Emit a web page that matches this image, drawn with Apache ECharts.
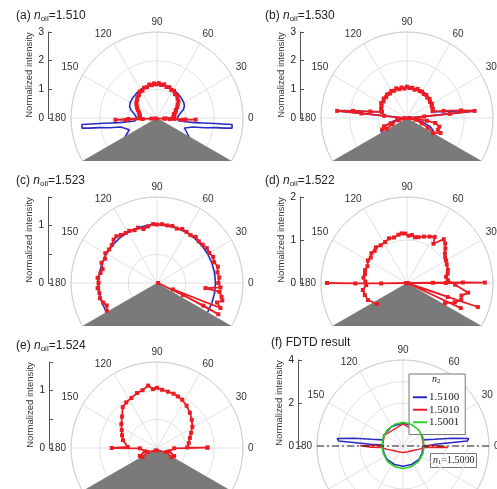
<!DOCTYPE html>
<html><head><meta charset="utf-8">
<script src="https://cdn.jsdelivr.net/npm/echarts@6/dist/echarts.min.js"></script>
<style>
html,body{margin:0;padding:0;background:#fff;width:497px;height:489px;overflow:hidden;position:relative}
.p{position:absolute;overflow:hidden}
</style></head><body>
<div id="pa" class="p" style="left:0;top:0;width:262px;height:161px"></div>
<div id="pc" class="p" style="left:0;top:165px;width:262px;height:161px"></div>
<div id="pe" class="p" style="left:0;top:330px;width:262px;height:159px"></div>
<div id="pb" class="p" style="left:248px;top:0;width:249px;height:161px"></div>
<div id="pd" class="p" style="left:248px;top:165px;width:249px;height:161px"></div>
<div id="pf" class="p" style="left:248px;top:328px;width:249px;height:161px"></div>
<script>
// ---------- data: [radius, angle(deg)] ----------
const panelTitles = ['1.510', '1.530', '1.523', '1.522', '1.524', 'FDTD result'];
const radialMax = [3, 3, 1.5, 2, 1.5, 4];
const radialTick = [1, 1, 0.5, 1, 0.5, 2];
const ringStep = [1, 1, 0.5, 1, 0.5, 1];
const angleTicks = [0, 30, 60, 90, 120, 150, 180];
const legendNames = ['1.5100', '1.5010', '1.5001'];
const n1Label = '1.5000';

const aBlue = [[1.35,212],[1.05,203],[1.02,200],[1.3,194],[1.7,191.5],[2.04,189.5],[2.4,188.5],[2.64,187.7],[2.66,186.3],[2.63,185],[2.3,185.2],[2.02,185.5],[1.6,186.2],[1.32,187],[1.0,187.5],[0.78,187.8],[0.72,182],[0.74,175],[0.82,169],[0.95,163],[1.04,157],[1.08,150],[1.1,140],[1.12,130],[1.15,118],[1.16,105],[1.17,90],[1.16,75],[1.15,62],[1.12,50],[1.1,40],[1.08,30],[1.04,23],[0.95,17],[0.82,11],[0.74,5],[0.72,-2],[0.78,-7.8],[1.0,-7.5],[1.32,-7],[1.6,-6.2],[2.02,-5.5],[2.3,-5.2],[2.63,-5],[2.66,-6.3],[2.64,-7.7],[2.4,-8.5],[2.04,-9.5],[1.7,-11.5],[1.3,-14],[1.02,-20],[1.05,-23],[1.35,-32]];
const aRed = [[0.58,2],[0.62,8],[0.6,13],[0.68,18],[0.72,23],[0.8,28],[0.86,33],[0.95,38],[0.98,43],[1.05,48],[1.04,53],[1.12,58],[1.1,63],[1.16,68],[1.13,73],[1.2,78],[1.16,83],[1.22,87],[1.17,91],[1.21,95],[1.16,99],[1.2,103],[1.13,108],[1.15,113],[1.08,118],[1.1,123],[1.02,128],[1.0,133],[0.94,138],[0.9,143],[0.84,148],[0.78,153],[0.72,158],[0.66,163],[0.62,168],[0.6,173],[0.62,178],[0.6,181],[1.0,182],[1.45,182.5],[1.1,183.5],[0.5,184],[0.2,186],[0.05,200],[0.25,-5],[0.6,-3],[1.0,-3],[1.35,-2.5],[0.9,-4],[0.45,-5],[0.3,-3],[0.58,2]];

const bBlue = [[1.0,213],[1.02,206],[0.85,200],[0.55,194],[0.25,188],[0.05,180],[0.8,174.3],[1.6,174.2],[2.45,174.2],[2.2,173.2],[1.6,171.5],[1.2,169.5],[0.91,166.5],[0.94,160],[1.0,150],[1.04,140],[1.06,125],[1.07,110],[1.07,90],[1.07,70],[1.06,55],[1.04,40],[1.0,30],[0.94,20],[0.91,13.5],[1.2,10.5],[1.6,8.5],[2.2,6.8],[2.42,5.8],[1.6,5.8],[0.8,5.7],[0.05,0],[0.25,-8],[0.55,-14],[0.85,-20],[1.02,-26],[1.0,-33]];
const bRed = [[0.9,166],[0.96,160],[0.98,155],[1.04,150],[1.0,145],[1.06,140],[1.03,135],[1.08,130],[1.04,125],[1.09,120],[1.05,115],[1.1,110],[1.04,105],[1.08,100],[1.03,95],[1.09,90],[1.05,85],[1.07,80],[1.02,75],[1.08,70],[1.04,65],[1.06,60],[1.02,55],[1.05,50],[1.0,45],[1.03,40],[0.98,35],[1.0,30],[0.95,25],[0.96,20],[0.92,15],[1.3,11],[1.9,8],[2.37,6],[1.5,5.5],[0.6,5],[0.1,0],[0.4,-5],[0.7,-8],[1.0,-10],[1.17,-15],[1.15,-21],[1.28,-24],[1.06,-30],[0.8,-25],[0.55,-20],[0.3,-12],[0.05,-5],[0.3,195],[0.6,198],[0.85,200],[0.95,205],[0.8,208],[0.55,203],[0.35,190],[0.1,182],[0.8,174.5],[1.6,174.3],[2.45,174.2],[1.9,172.5],[1.3,170],[0.9,166]];

const cBlue = [[1.02,-30],[1.02,-20],[1.02,-10],[1.02,0],[1.02,10],[1.02,20],[1.02,30],[1.02,40],[1.02,50],[1.02,60],[1.02,70],[1.02,80],[1.02,90],[1.02,100],[1.02,110],[1.02,120],[1.02,130],[1.02,140],[1.02,150],[1.02,160],[1.02,170],[1.02,180],[1.02,190],[1.02,200],[1.02,210]];
const cRed = [[1.0,209],[0.96,204],[1.0,200],[1.03,195],[1.02,190],[1.04,185],[1.02,180],[1.04,175],[1.0,170],[0.98,165.5],[1.03,160],[1.0,155],[1.04,150],[1.02,145],[1.03,140],[1.07,135],[1.08,131],[1.05,127],[1.03,122],[1.03,118],[1.0,113],[1.02,109],[0.97,104],[1.0,99],[1.03,94],[1.02,90],[1.03,85],[1.02,80],[1.03,75],[1.01,70],[1.04,65],[1.03,60],[1.02,55],[1.05,50],[1.03,45],[1.04,40],[1.06,35],[1.05,30],[1.08,25],[1.06,20],[1.1,15],[1.07,10],[1.09,5],[1.07,0],[1.11,-4],[0.85,-6],[1.1,-8],[1.15,-12],[1.18,-15],[1.1,-18],[1.19,-21.5],[0.3,-22],[1.2,-27],[0.9,-26],[0.5,-25],[0.02,0]];

const dRed = [[0.85,215],[0.99,203.5],[1.02,196],[1.04,189],[0.95,183],[0.97,178],[1.02,173],[1.0,168],[1.02,163],[1.0,157],[1.05,150],[1.03,145],[1.08,140],[1.06,135],[1.1,131],[1.07,125],[1.08,118],[1.12,112],[1.1,106],[1.14,100],[1.16,96],[1.15,92],[1.1,88],[1.12,84],[1.08,80],[1.1,76],[1.15,70],[1.2,64],[1.25,59],[1.1,56],[1.33,50],[1.28,46],[1.2,42],[1.12,38],[1.07,34],[1.05,30],[1.02,25],[1.0,18],[0.97,13],[0.92,9],[0.95,4],[1.12,-2],[1.44,-9],[1.3,-13],[1.32,-17.5],[1.2,-22],[1.0,-28]];
const dRays = [[1.86,180],[1.2,180.5],[0.6,181],[0.02,180],[0.6,0.5],[1.3,0.5],[1.81,0.3],[0.9,0],[0.02,0],[1.74,-18.7],[1.0,-19],[0.02,-20],[1.38,-25]];

const eRed = [[0.88,0.5],[0.53,1],[0.56,9],[0.6,17],[0.65,24],[0.72,31],[0.78,39],[0.84,47],[0.9,55],[0.95,62.5],[0.97,68],[0.99,73],[1.0,79],[1.02,85],[1.05,90],[1.03,94],[1.1,98],[1.04,104],[1.02,110],[0.98,117],[0.96,124],[0.93,130],[0.82,138],[0.75,146],[0.69,153],[0.65,160],[0.61,167],[0.51,178],[0.79,180],[0.3,181],[0.22,195],[0.33,205],[0.3,212],[0.18,203],[0.05,240],[0.18,-23],[0.3,-32],[0.33,-25],[0.22,-15],[0.3,-1],[0.88,0.5]];

const fBlue = [[0.98,163],[1.5,168],[2.3,171],[3.08,173.5],[3.0,175.5],[2.2,176],[1.5,177],[0.94,177.5],[0.92,183],[0.95,200],[0.97,220],[0.95,245],[0.94,270],[0.95,295],[0.97,320],[0.95,340],[0.92,357],[0.94,2.5],[1.5,3],[2.2,4],[3.0,4.5],[3.08,6.5],[2.3,9],[1.5,12],[0.98,17],[1.02,30],[1.05,60],[1.07,90],[1.05,120],[1.02,150],[0.98,163]];
const fRed = [[0.95,178],[1.5,179],[2.0,179.5],[2.02,182],[1.5,182.5],[1.0,184],[0.75,192],[0.5,205],[0.35,230],[0.3,270],[0.35,310],[0.5,335],[0.75,348],[1.0,356],[1.5,357.5],[2.1,358],[2.08,0.5],[1.5,1],[0.95,2],[1.0,30],[1.03,90],[1.0,150],[0.95,178]];
const fGreen = [[0.97,0],[1.0,20],[1.05,45],[1.08,70],[1.1,90],[1.08,110],[1.05,135],[1.0,160],[0.96,180],[0.98,200],[1.02,225],[1.04,250],[1.05,270],[1.04,290],[1.02,315],[0.99,340],[0.97,360]];

// ---------- rendering ----------
const FONT = "'Liberation Sans', Arial, sans-serif";
const SERIF = "'Liberation Serif', 'Times New Roman', serif";
const BLUE = '#2a2ac4', RED = '#ec1c24', GREEN = '#2ccf2c';
const norm = arr => arr.map(p => [p[0], p[1] < 0 ? p[1] + 360 : p[1]]);

function blueSeries(data, name) {
  return {type:'line', name: name, coordinateSystem:'polar', data: norm(data), symbol:'none',
    lineStyle:{color:BLUE, width:1.6}, itemStyle:{color:BLUE}, z:2, silent:true};
}
function redSeries(data, marks, name) {
  return {type:'line', name: name, coordinateSystem:'polar', data: norm(data),
    symbol: marks ? 'rect' : 'none', symbolSize: 4, showSymbol: marks,
    lineStyle:{color:RED, width:1.8}, itemStyle:{color:RED}, z:4, silent:true};
}
function prism(rMax) {
  return {type:'line', coordinateSystem:'polar', data:[[0,0],[rMax,210],[rMax,330],[0,0]], symbol:'none',
    lineStyle:{width:0, color:'#7a7a7a'}, areaStyle:{color:'#7a7a7a', opacity:1}, z:3, silent:true};
}

function build(id, idx, cx, axisX, seriesList, extra) {
  const chart = echarts.init(document.getElementById(id));
  const cy = 118, R = 86;
  const letter = '(' + 'abcdef'[idx] + ') ';
  const titleText = idx < 5 ? letter + '{i|n}{s|oil}=' + panelTitles[idx] : letter + panelTitles[idx];
  const opt = {
    animation: false,
    title: {text: titleText, left: idx < 5 ? (idx % 2 ? 17 : 16) : 23, top: 9, padding: 0,
      textStyle: {fontFamily: FONT, fontSize: 12, fontWeight: 'normal', color: '#222',
        rich: {i: {fontFamily: FONT, fontSize: 12, fontStyle: 'italic', color: '#222'},
               s: {fontFamily: FONT, fontSize: 8, color: '#222', padding: [6, 0, 0, 0]}}}},
    polar: {center: [cx, cy], radius: R},
    angleAxis: {type: 'value', min: 0, max: 360, interval: 30, startAngle: 0, clockwise: false,
      axisLine: {show: true, lineStyle: {color: '#cfcfcf', width: 1}},
      axisTick: {show: false},
      axisLabel: {margin: 5, fontFamily: FONT, fontSize: 10, color: '#333',
        formatter: v => angleTicks.indexOf(v) >= 0 ? String(v) : ''},
      splitLine: {show: true, lineStyle: {color: '#e1e1e1', width: 1}}},
    radiusAxis: {type: 'value', min: 0, max: radialMax[idx], interval: ringStep[idx],
      axisLine: {show: false}, axisTick: {show: false}, axisLabel: {show: false},
      splitLine: {show: true, lineStyle: {color: '#e1e1e1', width: 1}}},
    grid: {left: axisX, top: cy - R, height: R, width: 20},
    xAxis: {type: 'value', show: false, min: 0, max: 1},
    yAxis: {type: 'value', min: 0, max: radialMax[idx], interval: radialTick[idx],
      axisLine: {show: true, lineStyle: {color: '#555', width: 1}},
      axisTick: {show: true, inside: true, length: 4, lineStyle: {color: '#555'}},
      axisLabel: {margin: 4, fontFamily: FONT, fontSize: 10, color: '#222',
        formatter: v => Number.isInteger(v) ? String(v) : ''},
      splitLine: {show: false},
      name: 'Normalized intensity', nameLocation: 'middle', nameGap: 14, nameRotate: 90,
      nameTextStyle: {fontFamily: FONT, fontSize: 9.5, color: '#333'}},
    series: seriesList
  };
  if (extra) Object.assign(opt, extra);
  chart.setOption(opt);
}

build('pa', 0, 157, 48, [blueSeries(aBlue), prism(radialMax[0]), redSeries(aRed, true)]);
build('pb', 1, 159, 52, [blueSeries(bBlue), prism(radialMax[1]), redSeries(bRed, true)]);
build('pc', 2, 157, 48, [blueSeries(cBlue), prism(radialMax[2]), redSeries(cRed, true)]);
build('pd', 3, 159, 52, [prism(radialMax[3]), redSeries(dRed, true), redSeries(dRays, true)]);
build('pe', 4, 157, 49, [prism(radialMax[4]), redSeries(eRed, true)]);

const fSeries = [
  blueSeries(fBlue, legendNames[0]),
  {type:'line', name: legendNames[1], coordinateSystem:'polar', data: norm(fRed), symbol:'none',
    lineStyle:{color:RED, width:1.4}, itemStyle:{color:RED}, z:3, silent:true},
  {type:'line', name: legendNames[2], coordinateSystem:'polar', data: norm(fGreen), symbol:'none',
    lineStyle:{color:GREEN, width:1.6}, itemStyle:{color:GREEN}, z:4, silent:true},
  {type:'line', coordinateSystem:'polar', data:[[radialMax[5],180],[0,0],[radialMax[5],0]], symbol:'none',
    lineStyle:{color:'#222', width:1, type:[7,3,2,3]}, z:5, silent:true}
];
build('pf', 5, 155, 50, fSeries, {
  legend: {data: legendNames, orient: 'vertical', left: 161, top: 46, padding: [17, 6, 6, 4],
    itemGap: 0, itemWidth: 14, itemHeight: 2, icon: 'rect', selectedMode: false,
    borderColor: '#777', borderWidth: 1, backgroundColor: '#fff',
    textStyle: {fontFamily: SERIF, fontSize: 11, color: '#222', lineHeight: 12.5, padding: [0, 0, 0, -3]}},
  graphic: [
    {type: 'text', left: 184, top: 46, z: 100,
      style: {text: '{i|n}{s|2}', fill: '#222',
        rich: {i: {fontFamily: SERIF, fontSize: 10, fontStyle: 'italic'}, s: {fontFamily: SERIF, fontSize: 7, padding: [5, 0, 0, 0]}}}},
    {type: 'group', left: 182, top: 125, z: 100, children: [
      {type: 'rect', shape: {x: 0, y: 0, width: 46, height: 14}, style: {fill: '#fff', stroke: '#777', lineWidth: 1}},
      {type: 'text', x: 2.5, y: 1.5, style: {text: '{i|n}{s|1}=' + n1Label, fill: '#222',
        rich: {i: {fontFamily: SERIF, fontSize: 10, fontStyle: 'italic'}, s: {fontFamily: SERIF, fontSize: 6.5, padding: [4, 0, 0, 0]},
               '': {}}, fontFamily: SERIF, fontSize: 10}}
    ]}
  ]
});
</script>
</body></html>
